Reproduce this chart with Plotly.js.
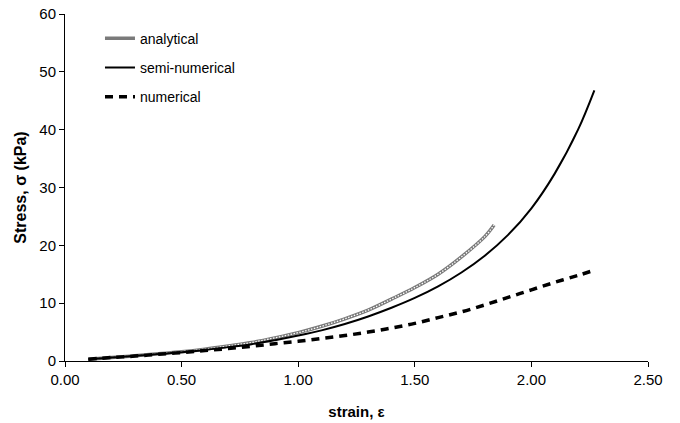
<!DOCTYPE html>
<html>
<head>
<meta charset="utf-8">
<script src="https://cdn.plot.ly/plotly-3.0.1.min.js"></script>
<style>html,body{margin:0;padding:0;background:#fff;}#chart{width:680px;height:423px;}</style>
</head>
<body>
<div id="chart"></div>
<script>
// strain values
var strainSemi = [0.1,0.2,0.3,0.4,0.5,0.6,0.7,0.8,0.9,1.0,1.1,1.2,1.3,1.4,1.5,1.6,1.7,1.8,1.9,2.0,2.1,2.2,2.27];
var stressSemi = [0.3,0.6,0.9,1.2,1.5,1.9,2.4,2.9,3.6,4.4,5.3,6.4,7.7,9.2,10.9,12.9,15.3,18.2,21.8,26.4,32.4,40.0,46.8];

var strainAnalytical = [0.1,0.2,0.3,0.4,0.5,0.6,0.7,0.8,0.9,1.0,1.1,1.2,1.3,1.4,1.5,1.6,1.7,1.8,1.84];
var stressAnalytical = [0.3,0.6,0.9,1.25,1.6,2.05,2.6,3.2,4.0,4.9,6.0,7.3,8.8,10.7,12.7,15.0,18.0,21.5,23.5];

var strainNumerical = [0.1,0.2,0.3,0.4,0.5,0.6,0.7,0.8,0.9,1.0,1.1,1.2,1.3,1.4,1.5,1.6,1.7,1.8,1.9,2.0,2.1,2.2,2.27];
var stressNumerical = [0.3,0.6,0.85,1.15,1.45,1.8,2.15,2.55,3.0,3.4,3.9,4.4,5.0,5.7,6.5,7.5,8.5,9.7,11.0,12.3,13.6,14.8,15.7];

var xTickVals = [0,0.5,1.0,1.5,2.0,2.5];
var xTickText = ['0.00','0.50','1.00','1.50','2.00','2.50'];
var yTickVals = [0,10,20,30,40,50,60];

var traces = [
  {x: strainAnalytical, y: stressAnalytical, name: 'analytical', mode: 'lines', legendgroup: 'a',
   line: {color: '#7a7a7a', width: 3.5, shape: 'spline'}},
  {x: strainAnalytical, y: stressAnalytical, name: 'analytical', mode: 'lines', legendgroup: 'a', showlegend: false,
   line: {color: '#ffffff', width: 1.3, dash: '1.5px,1.5px', shape: 'spline'}, hoverinfo: 'skip'},
  {x: strainSemi, y: stressSemi, name: 'semi-numerical', mode: 'lines', legendgroup: 's',
   line: {color: '#000000', width: 2, shape: 'spline'}},
  {x: strainNumerical, y: stressNumerical, name: 'numerical', mode: 'lines', legendgroup: 'n',
   line: {color: '#000000', width: 3.5, dash: '8px,6px', shape: 'spline'}}
];

var layout = {
  width: 680, height: 423,
  margin: {l: 65, r: 32, t: 14, b: 62},
  paper_bgcolor: '#ffffff', plot_bgcolor: '#ffffff',
  font: {family: 'Liberation Sans, Arial, sans-serif', size: 15, color: '#000'},
  showlegend: true,
  legend: {x: 0.06, y: 0.975, xanchor: 'left', yanchor: 'top', bgcolor: 'rgba(0,0,0,0)',
           traceorder: 'grouped', tracegroupgap: 8, itemwidth: 30, font: {size: 14}},
  xaxis: {range: [0, 2.5], tickvals: xTickVals, ticktext: xTickText, showgrid: false, zeroline: false,
          showline: true, linecolor: '#000', linewidth: 1, ticks: 'outside', ticklen: 5, tickcolor: '#000',
          tickfont: {size: 15},
          title: {text: '<b>strain, ε</b>', font: {size: 15}, standoff: 19}},
  yaxis: {range: [0, 60], tickvals: yTickVals, showgrid: false, zeroline: false,
          showline: true, linecolor: '#000', linewidth: 1, ticks: 'outside', ticklen: 5, tickcolor: '#000',
          tickfont: {size: 15},
          title: {text: '<b>Stress, σ (kPa)</b>', font: {size: 16}, standoff: 8}}
};

Plotly.newPlot('chart', traces, layout, {displayModeBar: false, staticPlot: true});
</script>
</body>
</html>
